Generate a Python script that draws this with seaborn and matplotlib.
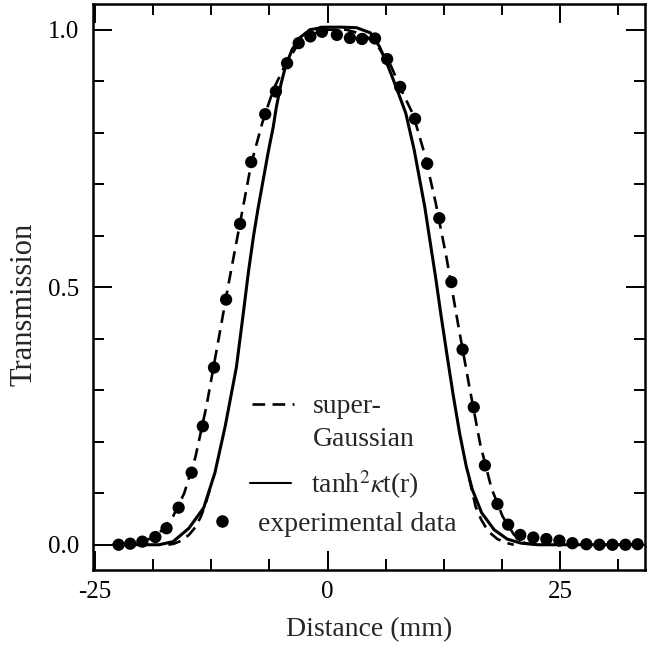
import matplotlib
matplotlib.use("Agg")
import matplotlib.pyplot as plt
import seaborn as sns
from matplotlib.lines import Line2D
from matplotlib.ticker import MultipleLocator

exp_x = [-22.45, -21.2, -19.9, -18.5, -17.3, -16.0, -14.6, -13.4, -12.2, -10.9,
         -9.4, -8.2, -6.7, -5.55, -4.35, -3.1, -1.85, -0.6, 1.0, 2.4,
         3.7, 5.1, 6.4, 7.8, 9.4, 10.7, 12.0, 13.3, 14.5, 15.7,
         16.9, 18.25, 19.4, 20.7, 22.1, 23.5, 24.9, 26.3, 27.8, 29.2,
         30.6, 32.0, 33.3]
exp_y = [0.0, 0.002, 0.006, 0.015, 0.032, 0.072, 0.14, 0.23, 0.344, 0.476,
         0.623, 0.743, 0.836, 0.88, 0.935, 0.974, 0.987, 0.996, 0.99, 0.984,
         0.982, 0.983, 0.943, 0.889, 0.827, 0.74, 0.634, 0.51, 0.379, 0.267,
         0.154, 0.079, 0.039, 0.019, 0.014, 0.011, 0.008, 0.003, 0.001, 0.0,
         0.0, 0.0, 0.001]

# tanh^2 curve
tanh_x = [-23.0, -18.1, -16.6, -14.9, -13.3, -12.1, -11.0, -9.8, -9.05, -8.5,
          -7.95, -7.45, -6.9, -6.35, -5.85, -5.5, -5.0, -4.5, -3.8, -2.95,
          -1.9, -0.3, 1.5, 3.1, 4.6, 5.55, 6.5, 7.4, 8.4, 9.3,
          10.45, 11.0, 11.6, 12.15, 12.9, 13.5, 14.2, 14.9, 15.55, 16.55,
          17.9, 19.3, 20.8, 22.6, 33.5]
tanh_y = [0.0, 0.0, 0.006, 0.032, 0.072, 0.14, 0.23, 0.344, 0.45, 0.53,
          0.60, 0.655, 0.71, 0.765, 0.81, 0.85, 0.895, 0.93, 0.962, 0.985,
          1.0, 1.005, 1.005, 1.004, 0.994, 0.968, 0.929, 0.887, 0.838, 0.767,
          0.655, 0.59, 0.52, 0.45, 0.36, 0.29, 0.215, 0.152, 0.107, 0.062,
          0.029, 0.011, 0.003, 0.0, 0.0]

# super-Gaussian (through the data)
sg_x = [-22.0, -20.5, -19.0, -17.8, -16.6, -15.4, -14.2, -13.0, -11.8, -10.6,
        -9.4, -8.2, -7.0, -5.8, -4.6, -3.4, -2.0, 0.0, 2.0, 4.0,
        5.5, 6.8, 8.0, 9.2, 10.4, 11.6, 12.8, 14.0, 15.2, 16.4,
        17.6, 18.8, 20.0, 21.2, 22.5]
sg_y = [0.0, 0.004, 0.012, 0.028, 0.055, 0.10, 0.17, 0.27, 0.39, 0.51,
        0.625, 0.74, 0.82, 0.885, 0.93, 0.965, 0.99, 1.0, 1.0, 0.99,
        0.965, 0.93, 0.88, 0.835, 0.76, 0.665, 0.555, 0.43, 0.31, 0.195,
        0.11, 0.055, 0.02, 0.003, 0.0]

# dashed feet that fall inside the tanh^2 curve
foot_l_x = [-17.1, -16.5, -15.7, -14.9, -14.2, -13.6, -13.1, -12.6]
foot_l_y = [0.0, 0.002, 0.008, 0.019, 0.034, 0.055, 0.08, 0.11]
foot_r_x = [15.2, 15.9, 16.5, 17.25, 18.25, 19.3, 20.0]
foot_r_y = [0.13, 0.074, 0.049, 0.026, 0.011, 0.003, 0.0]

sns.set_theme(style="ticks")
plt.rcParams['font.family'] = ['Liberation Serif', 'DejaVu Serif']
plt.rcParams['mathtext.fontset'] = 'stix'
plt.rcParams['axes.unicode_minus'] = False

fig = plt.figure(figsize=(6.48, 6.52), dpi=100)
ax = fig.add_axes([0.1435, 0.1258, 0.8519, 0.8681])

dash = (0, (4.8, 2.8))
sns.lineplot(x=sg_x, y=sg_y, color='black', lw=1.9, linestyle=dash, ax=ax)
sns.lineplot(x=foot_l_x, y=foot_l_y, color='black', lw=1.9, linestyle=dash, ax=ax)
sns.lineplot(x=foot_r_x, y=foot_r_y, color='black', lw=1.9, linestyle=dash, ax=ax)
sns.lineplot(x=tanh_x, y=tanh_y, color='black', lw=2.2, ax=ax)
sns.scatterplot(x=exp_x, y=exp_y, color='black', s=78, edgecolor='none', ax=ax, zorder=3)

ax.set_xlim(-25.2, 34.1)
ax.set_ylim(-0.049, 1.05)
ax.xaxis.set_major_locator(MultipleLocator(25))
ax.xaxis.set_minor_locator(MultipleLocator(6.25))
ax.yaxis.set_major_locator(MultipleLocator(0.5))
ax.yaxis.set_minor_locator(MultipleLocator(0.1))
ax.tick_params(which='both', direction='in', top=True, right=True, width=1.4, colors='black')
ax.tick_params(which='major', length=14)
ax.tick_params(which='minor', length=8)
ax.tick_params(axis='x', labelsize=18, pad=8)
ax.tick_params(axis='y', labelsize=18, pad=10)
for sp in ax.spines.values():
    sp.set_linewidth(1.8)
    sp.set_color('black')

ax.set_xlabel('Distance (mm)', fontsize=20, labelpad=10)
ax.set_ylabel('Transmission', fontsize=22)
ax.yaxis.set_label_coords(-0.098, 0.47)

# legend, split in pieces to follow the hand-set layout of the original
leg_kw = dict(loc='upper left', frameon=False, fontsize=20, borderpad=0, borderaxespad=0)
leg1 = ax.legend([Line2D([], [], color='black', lw=1.9, linestyle=dash),
                  Line2D([], [], color='none')],
                 ['super-', 'Gaussian'], bbox_to_anchor=(0.288, 0.311),
                 handlelength=1.5, handletextpad=0.7, labelspacing=0.25, **leg_kw)
ax.add_artist(leg1)
leg2 = ax.legend([Line2D([], [], color='black', lw=1.5)], [r'tanh$^2\kappa$t(r)'],
                 bbox_to_anchor=(0.284, 0.180), handlelength=1.5,
                 handletextpad=0.7, **leg_kw)
ax.add_artist(leg2)
ax.legend([Line2D([], [], color='black', marker='o', markersize=8, linestyle='none')],
          ['experimental data'], bbox_to_anchor=(0.203, 0.103),
          handlelength=1.2, handletextpad=0.7, **leg_kw)

fig.savefig('out.png', dpi=100)
